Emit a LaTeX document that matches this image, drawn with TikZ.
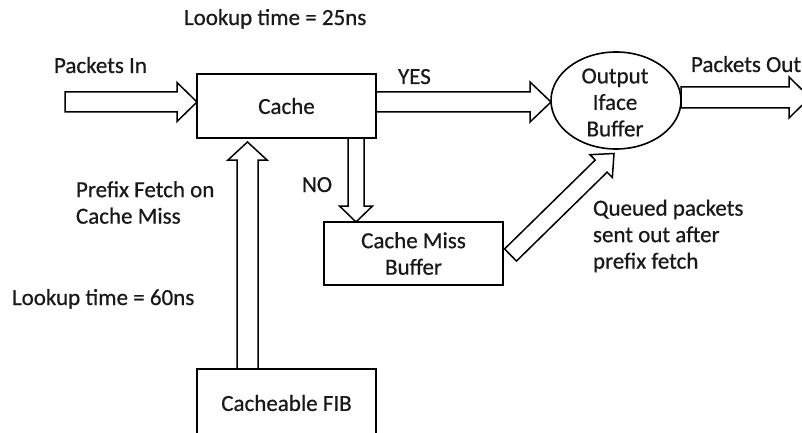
\documentclass[tikz,border=0pt]{standalone}
\usepackage{fontspec}
\setmainfont{Carlito}[BoldFont=Carlito, BoldFeatures={FakeBold=0.6}]
\usetikzlibrary{calc,shapes.geometric}
\newcommand\blockarrow[5]{%
  \coordinate (ba-h) at ($(#2)!#5!(#1)$);
  \draw[blockarrowline] ($(#1)!#3!90:(#2)$) -- ($(ba-h)!#3!-90:(#1)$) -- ($(ba-h)!#4!-90:(#1)$) -- (#2) -- ($(ba-h)!#4!90:(#1)$) -- ($(ba-h)!#3!90:(#1)$) -- ($(#1)!#3!-90:(#2)$) -- cycle;}
\begin{document}
\begin{tikzpicture}[x=1pt,y=-1pt,
  txt/.style={font=\fontsize{23}{26.5}\selectfont\bfseries, text=black!90, inner sep=0pt, outer sep=0pt},
  box/.style={txt, draw=black, line width=1.6pt, minimum width=179pt, align=center},
  blockarrowline/.style={draw, line width=1.5pt, line join=miter}]
\fill[white] (0,0) rectangle (802,433);
\useasboundingbox (0,0) rectangle (802,433);
\clip (0,0) rectangle (802,433);

% boxes
\node[box, minimum height=64pt] (cache) at (286.5,106) {Cache};
\node[box, line width=2.4pt, minimum height=63pt] (cmb) at (413.5,253.5) {Cache Miss\\Buffer};
\node[box, minimum height=68pt] (fib) at (286.5,403) {Cacheable FIB};
\node[draw, ellipse, line width=1.6pt, minimum width=130pt, minimum height=97pt, inner sep=0pt, outer sep=0pt] (oib) at (616,100.5) {};
\node[txt, align=center] (oibt) at (615,102.5) {Output\\Iface\\Buffer};

% labels
\node[txt, anchor=base west] (l25) at (184,25) {Lookup time = 25ns};
\node[txt, anchor=base west] (lpin) at (54,73) {Packets In};
\node[txt, anchor=base west] (lyes) at (398,84) {YES};
\node[txt, anchor=base west] (lpout) at (691,72) {Packets Out};
\node[txt, anchor=base west] (lno) at (302,192) {NO};
\node[txt, anchor=west, align=left] (lpf) at (76,202.5) {Prefix Fetch on\\Cache Miss};
\node[txt, anchor=base west] (l60) at (12,305) {Lookup time = 60ns};
\node[txt, anchor=west, align=left] (lq) at (593,236) {Queued packets\\sent out after\\prefix fetch};

% connector coordinates
\coordinate (pin) at (65,102);
\coordinate (pint) at (cache.west |- pin);
\coordinate (yess) at (cache.east |- pin);
\coordinate (yest) at (oib.west |- pin);
\coordinate (pout) at (810,97.5);
\coordinate (pouts) at (oib.east |- pout);
\coordinate (nox) at (356,0);
\coordinate (nos) at (cache.south -| nox);
\coordinate (notip) at (cmb.north -| nox);
\coordinate (fx) at (247.5,0);
\coordinate (fibs) at (fib.north -| fx);
\coordinate (fibt) at ($(cache.south -| fx)+(0,4)$);
\coordinate (qs) at ($(cmb.east)+(7.5,1.5)$);
\coordinate (qt) at ($(oib.south)+(-2,4.5)$);

% block arrows
\blockarrow{pin}{pint}{10pt}{19.5pt}{20pt}
\blockarrow{yess}{yest}{10pt}{20pt}{21pt}
\blockarrow{pouts}{pout}{10.5pt}{20.5pt}{21pt}
\blockarrow{nos}{notip}{8pt}{16.5pt}{16pt}
\blockarrow{fibs}{fibt}{10.5pt}{19.5pt}{18pt}
\blockarrow{qs}{qt}{8.5pt}{16pt}{18pt}
\end{tikzpicture}
\end{document}
